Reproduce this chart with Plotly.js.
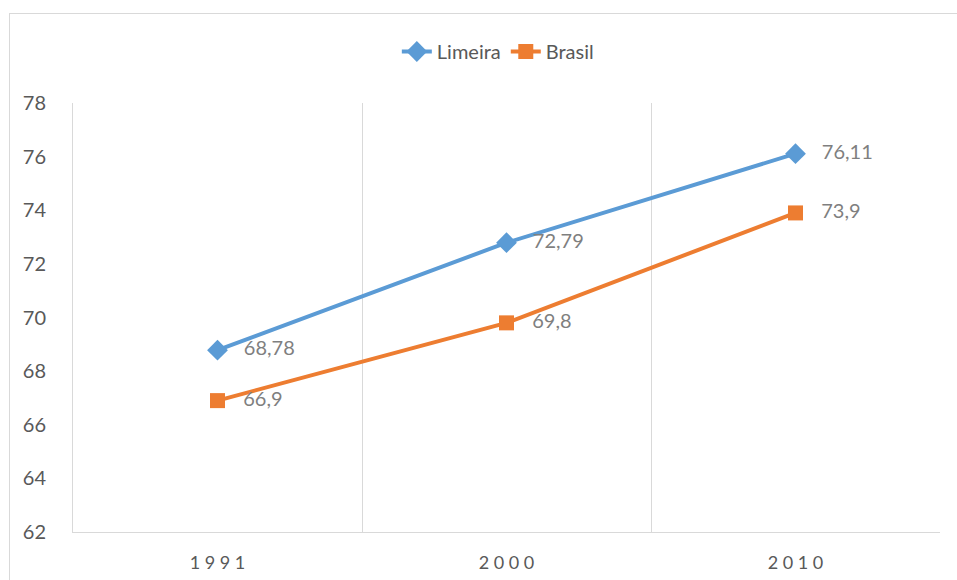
<!DOCTYPE html>
<html>
<head>
<meta charset="utf-8">
<script src="https://cdn.plot.ly/plotly-3.0.1.min.js"></script>
<style>
  html, body { margin: 0; padding: 0; background: #fff; overflow: hidden; }
  #frame { position: absolute; left: 9px; top: 13px; width: 960px; height: 580px; border: 1px solid #d9d9d9; }
  #chart { width: 950px; height: 570px; }
</style>
</head>
<body>
<div id="frame"><div id="chart"></div></div>
<script>
const categories = ["1991", "2000", "2010"];
const tickLabels = ["1 9 9 1", "2 0 0 0", "2 0 1 0"];
const limeira = [68.78, 72.79, 76.11];
const brasil = [66.9, 69.8, 73.9];
const yTicks = [62, 64, 66, 68, 70, 72, 74, 76, 78];

const pad = "\u00a0\u00a0\u00a0";
const fmt = v => pad + String(v).replace('.', ',');
const font = "Lato, 'Liberation Sans', sans-serif";

const traces = [
  {
    name: "Limeira", x: categories, y: limeira, type: "scatter", mode: "lines+markers+text",
    line: { color: "#5B9BD5", width: 4 },
    marker: { symbol: "diamond", size: 16, color: "#5B9BD5" },
    text: limeira.map(fmt), textposition: "middle right",
    textfont: { family: font, size: 20, color: "#7f7f7f" }, cliponaxis: false
  },
  {
    name: "Brasil", x: categories, y: brasil, type: "scatter", mode: "lines+markers+text",
    line: { color: "#ED7D31", width: 4 },
    marker: { symbol: "square", size: 15, color: "#ED7D31" },
    text: brasil.map(fmt), textposition: "middle right",
    textfont: { family: font, size: 20, color: "#7f7f7f" }, cliponaxis: false
  }
];

const layout = {
  width: 950, height: 570,
  margin: { l: 63, r: 20, t: 89, b: 52, autoexpand: false },
  paper_bgcolor: "#fff", plot_bgcolor: "#fff",
  font: { family: font, color: "#595959", size: 19 },
  showlegend: true,
  legend: { orientation: "h", x: 0.49, xanchor: "center", y: 1.12, yanchor: "middle",
            font: { family: font, size: 20, color: "#595959" } },
  xaxis: {
    type: "category", range: [-0.5, 2.5], tickvals: categories, ticktext: tickLabels,
    tickson: "boundaries", showgrid: true, gridcolor: "#d9d9d9", gridwidth: 1,
    showline: true, linecolor: "#d9d9d9", linewidth: 1, ticks: "",
    ticklabelstandoff: 14, tickfont: { family: font, size: 18, color: "#595959" },
    zeroline: false, fixedrange: true
  },
  yaxis: {
    range: [62, 78], tickvals: yTicks, showgrid: false, zeroline: false,
    showline: true, linecolor: "#d9d9d9", linewidth: 1,
    ticks: "", ticklabelstandoff: 22, tickfont: { family: font, size: 20, color: "#595959" },
    fixedrange: true
  }
};

Plotly.newPlot("chart", traces, layout, { displayModeBar: false, staticPlot: true });
</script>
</body>
</html>
